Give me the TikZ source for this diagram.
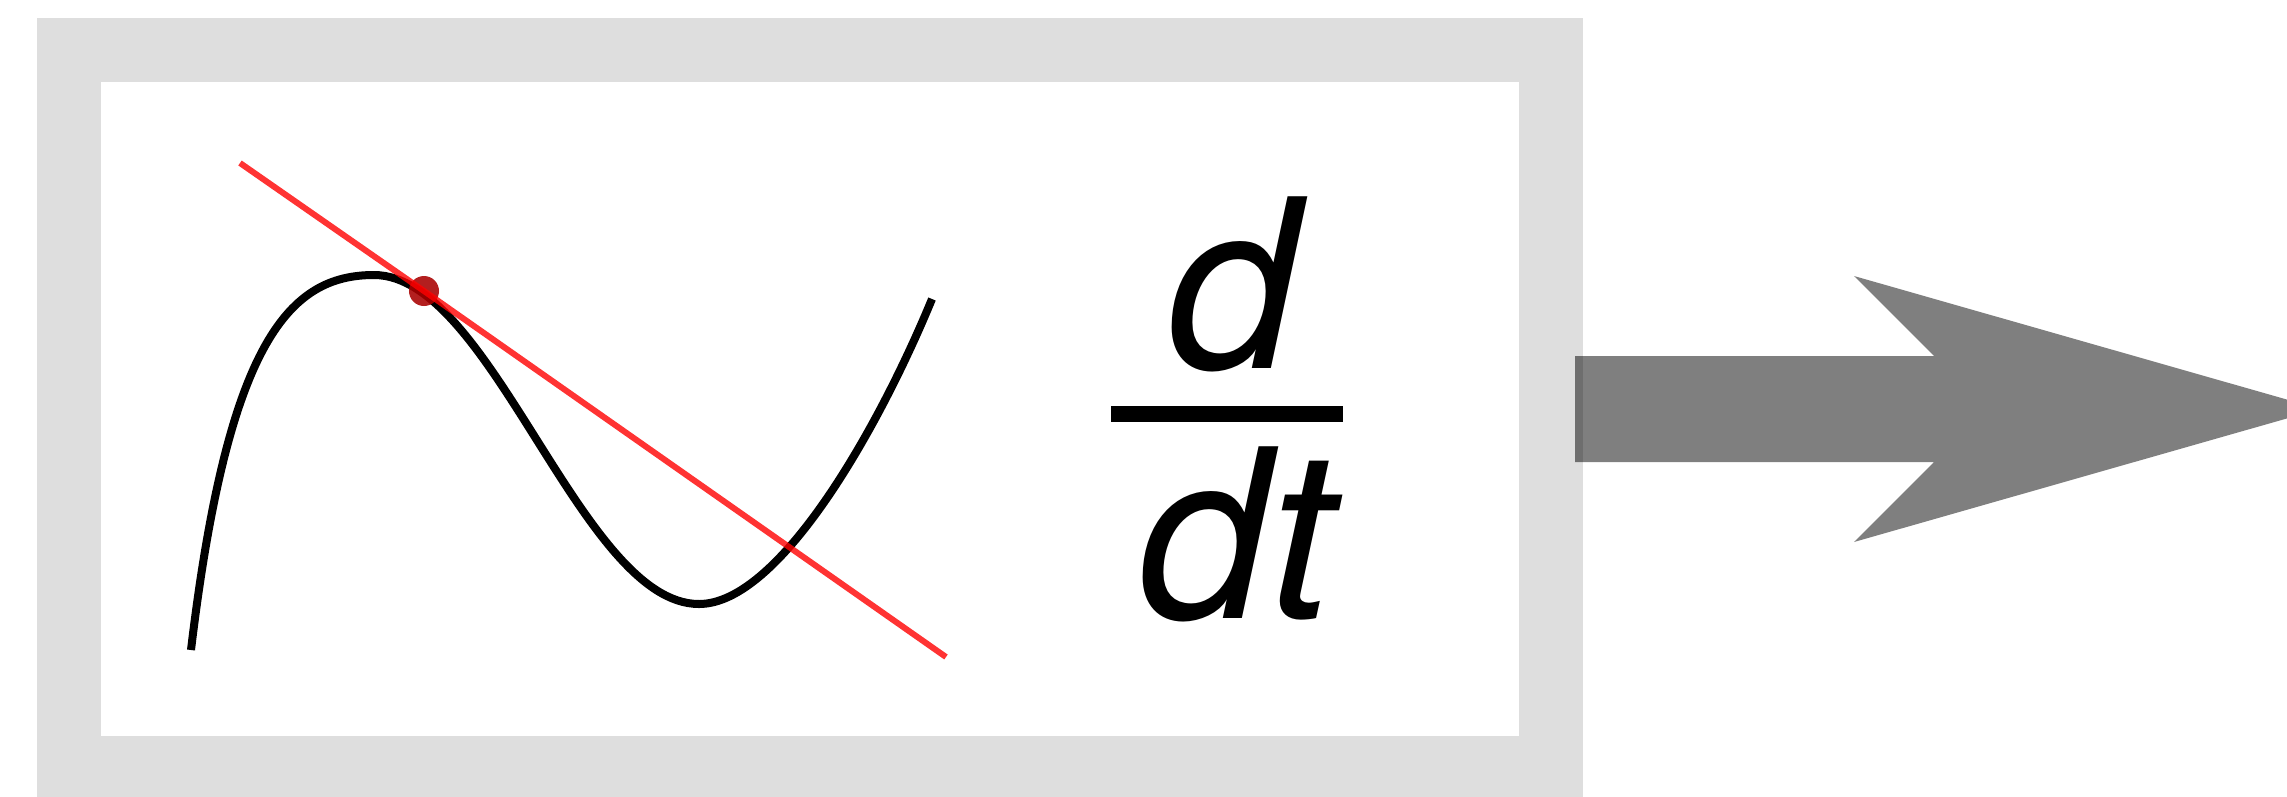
\documentclass[tikz,border=0pt]{standalone}
\usepackage{fontspec}
\setmainfont{TeX Gyre Heros}
\definecolor{frameGray}{HTML}{DEDEDE}
\definecolor{dotRed}{HTML}{A80000}

\begin{document}
\begin{tikzpicture}[
  x=0.01cm,y=-0.01cm,
  frame/.style={draw=frameGray,line width=0.64cm,minimum width=14.82cm,minimum height=7.18cm,inner sep=0pt},
  curve/.style={draw=black,line width=0.08cm},
  tangent/.style={draw=red,opacity=0.8,line width=0.06cm},
  touch/.style={circle,fill=dotRed,fill opacity=0.88,minimum size=0.3cm,inner sep=0pt},
  frac/.style={font=\fontsize{67}{80}\selectfont\itshape,inner sep=0pt,anchor=base},
  bar/.style={line width=0.16cm},
  block/.style={fill=black,opacity=0.5},
]
\useasboundingbox (0,0) rectangle (2287,796);

% ---- grey frame ---------------------------------------------------------
\node[frame] (box) at (810,409) {};

% ---- curve with its tangent ---------------------------------------------
\draw[curve] (191,650) .. controls (228,340) and (290,275) .. (374,275)
  .. controls (492,275) and (581,604) .. (699,604)
  .. controls (779,604) and (878,430) .. (932,299);
\node[touch] (pt) at (424,291) {};
\coordinate (tA) at (240,163);
\coordinate (tB) at (946,657);
\draw[tangent] (tA) -- (pt.center) -- (tB);

% ---- d/dt ---------------------------------------------------------------
\node[frac] (num) at (1232,368) {d};
\node[frac] (den) at (1236,618) {dt};
\coordinate (barL) at (1111,414);
\coordinate (barR) at (1343,414);
\draw[bar] (barL) -- (barR);

% ---- block arrow out of the frame ---------------------------------------
\coordinate (tail) at (1575,409);
\fill[block] (tail) ++(0,-53) -- (1934,356) -- (1854,276) -- (2320,409)
  -- (1854,542) -- (1934,462) -- (1575,462) -- cycle;

\end{tikzpicture}
\end{document}
